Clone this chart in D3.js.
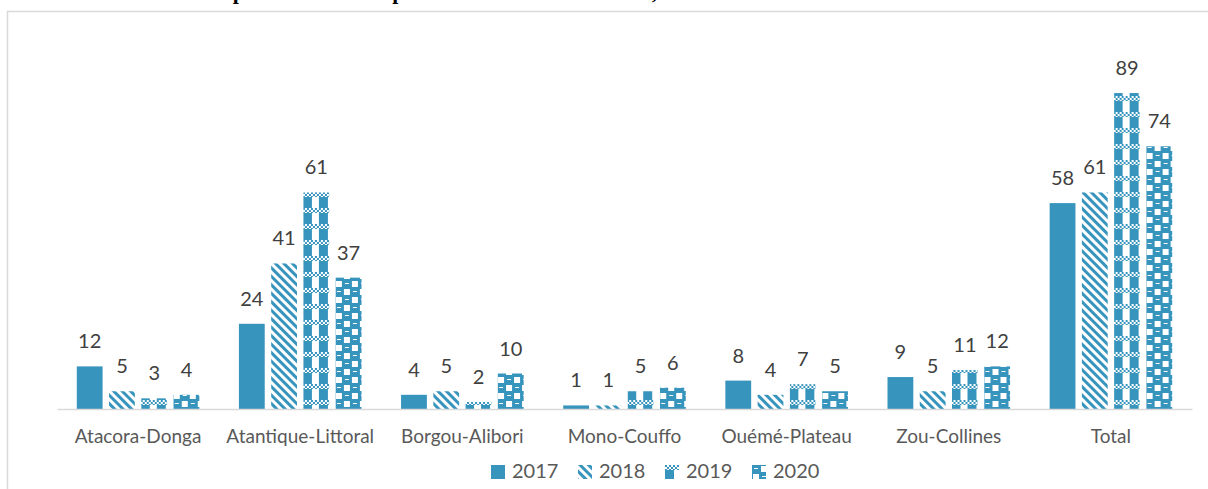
<!DOCTYPE html>
<html>
<head>
<meta charset="utf-8">
<script src="https://cdn.jsdelivr.net/npm/d3@7"></script>
<style>
  body { margin: 0; background: #fff; }
  svg { display: block; }
</style>
</head>
<body>
<script>
var categories = ["Atacora-Donga", "Atantique-Littoral", "Borgou-Alibori", "Mono-Couffo",
                  "Ouémé-Plateau", "Zou-Collines", "Total"];
var years = ["2017", "2018", "2019", "2020"];
var v2017 = [12, 24, 4, 1, 8, 9, 58];
var v2018 = [5, 41, 5, 1, 4, 5, 61];
var v2019 = [3, 61, 2, 5, 7, 11, 89];
var v2020 = [4, 37, 10, 6, 5, 12, 74];
var series = [v2017, v2018, v2019, v2020];

var w = 1208, h = 489;
var blue = "#3794bd";

var svg = d3.select("body").append("svg")
  .attr("width", w)
  .attr("height", h);

var defs = svg.append("defs");

// 2017 : plein
// 2018 : rayures diagonales larges
var p18 = defs.append("pattern")
  .attr("id", "p2018")
  .attr("patternUnits", "userSpaceOnUse")
  .attr("width", 6).attr("height", 6)
  .attr("patternTransform", "rotate(-45)");
p18.append("rect").attr("width", 6).attr("height", 6).attr("fill", "#fff");
p18.append("rect").attr("width", 3).attr("height", 6).attr("fill", blue);

// 2019 : colonnes + bande en damier
var p19 = defs.append("pattern")
  .attr("id", "p2019")
  .attr("patternUnits", "userSpaceOnUse")
  .attr("width", 16).attr("height", 16);
p19.append("rect").attr("width", 16).attr("height", 16).attr("fill", "#fff");
p19.append("rect").attr("x", 0).attr("y", 5).attr("width", 9).attr("height", 11).attr("fill", blue);
for (var i = 0; i < 8; i++) {
  p19.append("rect").attr("x", i * 2).attr("y", (i % 2) * 2).attr("width", 2).attr("height", 2).attr("fill", blue);
  p19.append("rect").attr("x", i * 2).attr("y", 2 + ((i + 1) % 2) * 2).attr("width", 2).attr("height", 1).attr("fill", blue);
}

// 2020 : sphères
var p20 = defs.append("pattern")
  .attr("id", "p2020")
  .attr("patternUnits", "userSpaceOnUse")
  .attr("width", 16).attr("height", 16);
p20.append("rect").attr("width", 16).attr("height", 16).attr("fill", blue);
p20.append("rect").attr("x", 9).attr("y", 1).attr("width", 6).attr("height", 6).attr("fill", "#fff");
p20.append("rect").attr("x", 1).attr("y", 9).attr("width", 6).attr("height", 6).attr("fill", "#fff");
p20.append("rect").attr("x", 2).attr("y", 3).attr("width", 4).attr("height", 1).attr("fill", "#fff");
p20.append("rect").attr("x", 10).attr("y", 11).attr("width", 4).attr("height", 1).attr("fill", "#fff");

var fills = [blue, "url(#p2018)", "url(#p2019)", "url(#p2020)"];

// titre (coupé en haut de l'image, comme sur l'original)
svg.append("text")
  .attr("x", 207)
  .attr("y", -1)
  .style("font-family", "'Liberation Serif', serif")
  .style("font-weight", "bold")
  .style("font-size", "22px")
  .attr("fill", "#000")
  .text("Répartition des cas par zone sanitaire et années, 2017-2020");

// cadre
svg.append("rect")
  .attr("x", 7.5).attr("y", 11.5)
  .attr("width", w + 20).attr("height", h + 20)
  .attr("fill", "none")
  .attr("stroke", "#d9d9d9")
  .attr("stroke-width", 1.5);

var x0 = d3.scaleBand()
  .domain(categories)
  .range([57, 1192])
  .paddingInner(0.244)
  .paddingOuter(0.122);

var x1 = d3.scaleBand()
  .domain(years)
  .range([0, x0.bandwidth()])
  .paddingInner(0.2);

var y = d3.scaleLinear()
  .domain([0, 100])
  .range([409, 54]);

var groups = svg.selectAll("g.cat")
  .data(categories)
  .enter()
  .append("g")
  .attr("class", "cat")
  .attr("transform", function(d) { return "translate(" + x0(d) + ",0)"; });

groups.selectAll("rect")
  .data(function(d, i) { return years.map(function(yr, j) { return { yr: yr, v: series[j][i], j: j }; }); })
  .enter()
  .append("rect")
  .attr("x", function(d) { return x1(d.yr); })
  .attr("y", function(d) { return y(d.v); })
  .attr("width", x1.bandwidth())
  .attr("height", function(d) { return y(0) - y(d.v); })
  .attr("fill", function(d) { return fills[d.j]; });

groups.selectAll("text.val")
  .data(function(d, i) { return years.map(function(yr, j) { return { yr: yr, v: series[j][i] }; }); })
  .enter()
  .append("text")
  .attr("class", "val")
  .attr("x", function(d) { return x1(d.yr) + x1.bandwidth() / 2; })
  .attr("y", function(d) { return y(d.v) - 18; })
  .attr("text-anchor", "middle")
  .style("font-family", "Lato, sans-serif")
  .style("font-size", "20px")
  .attr("fill", "#404040")
  .text(function(d) { return d.v; });

// axe des catégories
var xAxis = svg.append("g")
  .attr("transform", "translate(0,409)")
  .call(d3.axisBottom(x0).tickSize(0).tickPadding(21).tickSizeOuter(0));
xAxis.select(".domain").attr("stroke", "#d9d9d9").attr("stroke-width", 1.5);
xAxis.selectAll("text")
  .style("font-family", "Lato, sans-serif")
  .style("font-size", "19px")
  .attr("fill", "#595959");

// légende
var legend = svg.selectAll("g.leg")
  .data(years)
  .enter()
  .append("g")
  .attr("class", "leg")
  .attr("transform", function(d, i) { return "translate(" + (491 + i * 87) + ",465)"; });
legend.append("rect")
  .attr("width", 14).attr("height", 14)
  .attr("fill", function(d, i) { return fills[i]; });
legend.append("text")
  .attr("x", 21).attr("y", 13)
  .style("font-family", "Lato, sans-serif")
  .style("font-size", "20px")
  .attr("fill", "#595959")
  .text(function(d) { return d; });
</script>
</body>
</html>
